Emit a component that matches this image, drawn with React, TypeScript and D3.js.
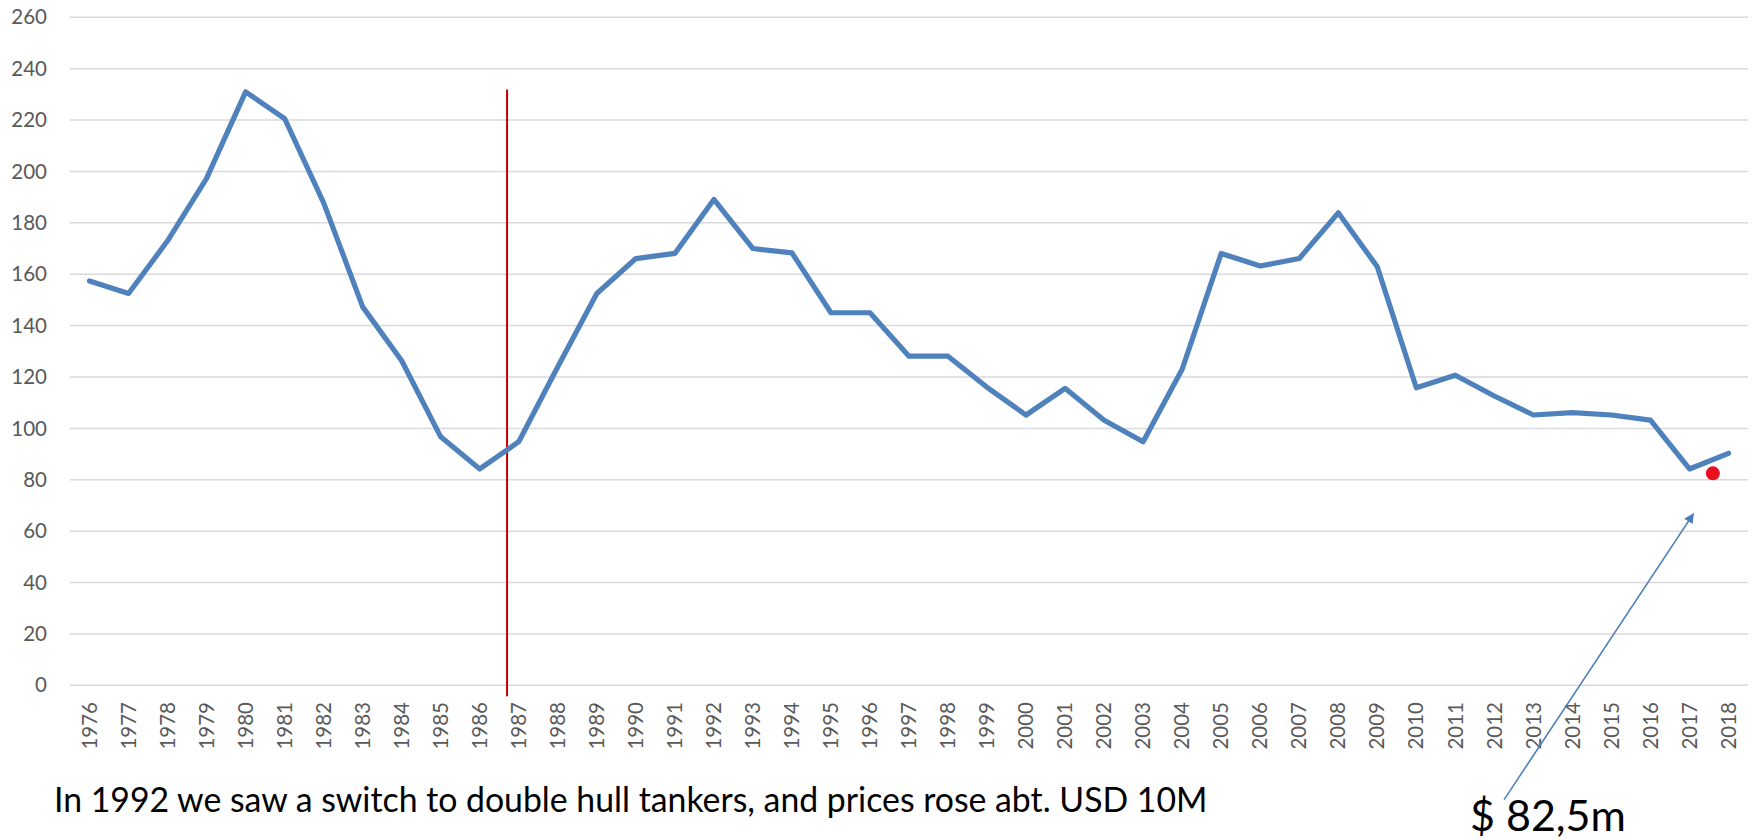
import React from "react";
import * as d3 from "d3";

const years = d3.range(1976, 2019).map(String);
const prices = [
  157.4, 152.5, 173, 197.3, 231, 220.6, 187.8, 147.3, 126.3, 96.7, 84.2,
  94.8, 124, 152.5, 166.1, 168.1, 189.1, 170, 168.3, 145, 145, 128.1, 128.1,
  116, 105.2, 115.6, 103.2, 94.8, 123, 168.1, 163.2, 166.1, 183.9, 162.9,
  115.8, 120.7, 112.6, 105.2, 106.1, 105.2, 103.2, 84.2, 90.3,
];
const yTicks = d3.range(0, 261, 20);

// annotations (x given as fractional category index)
const markerLine = { pos: 10.7, top: 231.9, bottom: -4.3 };
const currentPrice = { pos: 41.6, value: 82.5, label: "$ 82,5m" };
const arrow = { from: [36.25, -44.5], to: [41.1, 66.7] };
const caption =
  "In 1992 we saw a switch to double hull tankers, and prices rose abt. USD 10M";

const W = 1752;
const H = 840;
const left = 70;
const right = 1748;
const top = 17.3;
const bottom = 685.3;
const font = "Lato, 'Open Sans', sans-serif";

export default function App() {
  const x = d3.scalePoint<string>().domain(years).range([left, right]).padding(0.5);
  const y = d3.scaleLinear().domain([0, 260]).range([bottom, top]);
  const xi = (i: number) => (x(years[0]) as number) + i * x.step();

  const line = d3
    .line<number>()
    .x((_, i) => x(years[i]) as number)
    .y((d) => y(d));

  const ax = xi(arrow.from[0]);
  const ay = y(arrow.from[1]);
  const bx = xi(arrow.to[0]);
  const by = y(arrow.to[1]);

  return (
    <div style={{ position: "fixed", left: 0, top: 0 }}>
      <svg width={W} height={H} style={{ display: "block", background: "#fff" }}>
        <defs>
          <marker
            id="arrowHead"
            viewBox="0 0 10 10"
            refX="9"
            refY="5"
            markerWidth="10"
            markerHeight="10"
            markerUnits="userSpaceOnUse"
            orient="auto"
          >
            <path d="M0,0 L10,5 L0,10 z" fill="#4a7ebb" />
          </marker>
        </defs>

        {/* grid + y labels */}
        {yTicks.map((t) => (
          <g key={t}>
            <line x1={left} x2={right} y1={y(t)} y2={y(t)} stroke="#d9d9d9" strokeWidth={1.5} />
            <text
              x={47}
              y={y(t)}
              dy="0.35em"
              textAnchor="end"
              fontFamily={font}
              fontSize={20.5}
              fill="#595959"
            >
              {t}
            </text>
          </g>
        ))}

        {/* x labels */}
        {years.map((yr) => (
          <text
            key={yr}
            transform={`translate(${x(yr)},${702}) rotate(-90)`}
            textAnchor="end"
            dy="0.35em"
            fontFamily={font}
            fontSize={20.5}
            fill="#595959"
          >
            {yr}
          </text>
        ))}

        {/* red marker line */}
        <line
          x1={xi(markerLine.pos)}
          x2={xi(markerLine.pos)}
          y1={y(markerLine.top)}
          y2={y(markerLine.bottom)}
          stroke="#c00000"
          strokeWidth={2}
        />

        <path
          d={line(prices) ?? ""}
          fill="none"
          stroke="#4f81bd"
          strokeWidth={5.2}
          strokeLinejoin="round"
          strokeLinecap="round"
        />

        <circle cx={xi(currentPrice.pos)} cy={y(currentPrice.value)} r={7} fill="#e8101e" />

        <line x1={ax} y1={ay} x2={bx} y2={by} stroke="#4a7ebb" strokeWidth={1.6} markerEnd="url(#arrowHead)" />

        <text x={54} y={812} fontFamily={font} fontSize={33.8} fill="#000">
          {caption}
        </text>
        <text x={1470} y={831} fontFamily={font} fontSize={43} fill="#000">
          {currentPrice.label}
        </text>
      </svg>
    </div>
  );
}
